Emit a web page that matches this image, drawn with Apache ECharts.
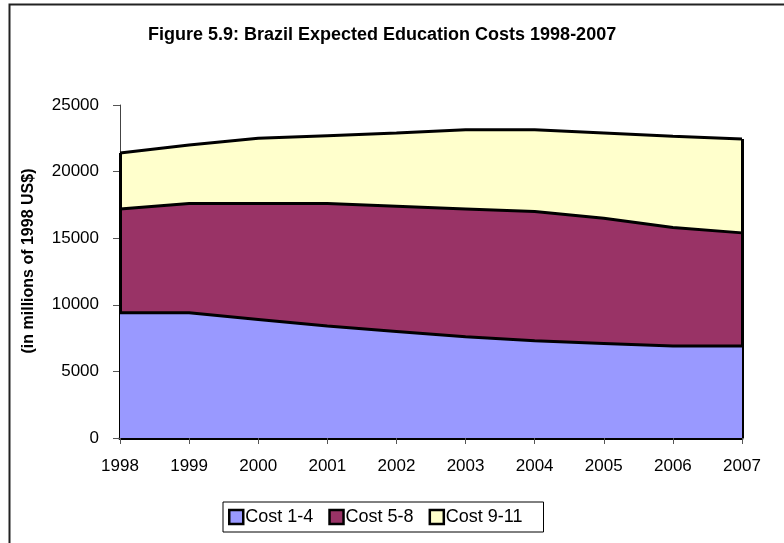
<!DOCTYPE html>
<html>
<head>
<meta charset="utf-8">
<script src="https://cdn.jsdelivr.net/npm/echarts@6/dist/echarts.min.js"></script>
<style>
  html, body { margin: 0; padding: 0; background: #fff; }
  #chart { width: 784px; height: 543px; }
</style>
</head>
<body>
<div id="chart"></div>
<script>
// Expected education costs by school stage, millions of 1998 US$
var years = ['1998', '1999', '2000', '2001', '2002', '2003', '2004', '2005', '2006', '2007'];
var cost1to4 = [9400, 9400, 8900, 8400, 8000, 7600, 7300, 7100, 6900, 6900];
var cost5to8 = [7800, 8200, 8700, 9200, 9400, 9600, 9700, 9400, 8900, 8500];
var cost9to11 = [4200, 4400, 4900, 5100, 5500, 5950, 6150, 6400, 6850, 7050];
var seriesNames = ['Cost 1-4', 'Cost 5-8', 'Cost 9-11'];
var yTicks = { min: 0, max: 25000, step: 5000 };

var FONT = "'Liberation Sans', Arial, sans-serif";
var fills = ['#9999FF', '#993366', '#FFFFCC'];
var layers = [cost1to4, cost5to8, cost9to11];

var last = years.length - 1;
var totalFirst = cost1to4[0] + cost5to8[0] + cost9to11[0];
var totalLast = cost1to4[last] + cost5to8[last] + cost9to11[last];

var series = layers.map(function (vals, i) {
  var s = {
    name: seriesNames[i],
    type: 'line',
    stack: 'costs',
    data: vals,
    showSymbol: false,
    symbol: 'none',
    z: 5 - i,
    lineStyle: { color: '#000', width: 3 },
    itemStyle: { color: fills[i] },
    areaStyle: { color: fills[i], opacity: 1 },
    emphasis: { disabled: true },
    silent: true
  };
  if (i === 0) {
    // outline the left and right edges of the stacked block
    s.markLine = {
      silent: true,
      symbol: 'none',
      label: { show: false },
      lineStyle: { color: '#000', width: 3, type: 'solid' },
      data: [
        [{ coord: [0, 0] }, { coord: [0, totalFirst] }],
        [{ coord: [last, 0] }, { coord: [last, totalLast] }]
      ]
    };
  }
  return s;
});

var chart = echarts.init(document.getElementById('chart'), null, { renderer: 'canvas' });
chart.setOption({
  animation: false,
  backgroundColor: '#fff',
  title: {
    text: 'Figure 5.9: Brazil Expected Education Costs 1998-2007',
    left: 148,
    top: 26,
    padding: 0,
    textStyle: { fontFamily: FONT, fontSize: 18, fontWeight: 'bold', color: '#000' }
  },
  graphic: [
    {
      type: 'rect',
      shape: { x: 9.5, y: 4.5, width: 820, height: 600 },
      style: { fill: 'none', stroke: '#222', lineWidth: 2 },
      silent: true
    },
    {
      type: 'text',
      x: 29,
      y: 261,
      rotation: Math.PI / 2,
      style: {
        text: '(in millions of 1998 US$)',
        font: 'bold 16px ' + FONT,
        fill: '#000',
        textAlign: 'center',
        textVerticalAlign: 'middle'
      },
      silent: true
    }
  ],
  grid: { left: 120, right: 42, top: 105, bottom: 105, containLabel: false },
  xAxis: {
    type: 'category',
    data: years,
    boundaryGap: false,
    axisLine: { lineStyle: { color: '#000', width: 3 } },
    axisTick: { show: true, length: 6, lineStyle: { color: '#555', width: 1 } },
    axisLabel: { color: '#000', fontFamily: FONT, fontSize: 17, margin: 20 },
    splitLine: { show: false }
  },
  yAxis: {
    type: 'value',
    min: yTicks.min,
    max: yTicks.max,
    interval: yTicks.step,
    axisLine: { show: true, lineStyle: { color: '#444', width: 1 } },
    axisTick: { show: true, length: 7, lineStyle: { color: '#555', width: 1 } },
    axisLabel: {
      color: '#000', fontFamily: FONT, fontSize: 17, margin: 21,
      formatter: function (v) { return String(v); }
    },
    splitLine: { show: false }
  },
  legend: {
    data: seriesNames,
    left: 223,
    top: 502,
    orient: 'horizontal',
    icon: 'rect',
    itemWidth: 14,
    itemHeight: 14,
    itemGap: 15,
    padding: [6, 21, 6, 5],
    borderColor: '#000',
    borderWidth: 1,
    borderRadius: 0,
    itemStyle: { borderColor: '#000', borderWidth: 2.5 },
    lineStyle: { width: 0 },
    textStyle: { fontFamily: FONT, fontSize: 18, color: '#000', padding: [4, 0, 0, -3] },
    selectedMode: false
  },
  series: series
});
</script>
</body>
</html>
